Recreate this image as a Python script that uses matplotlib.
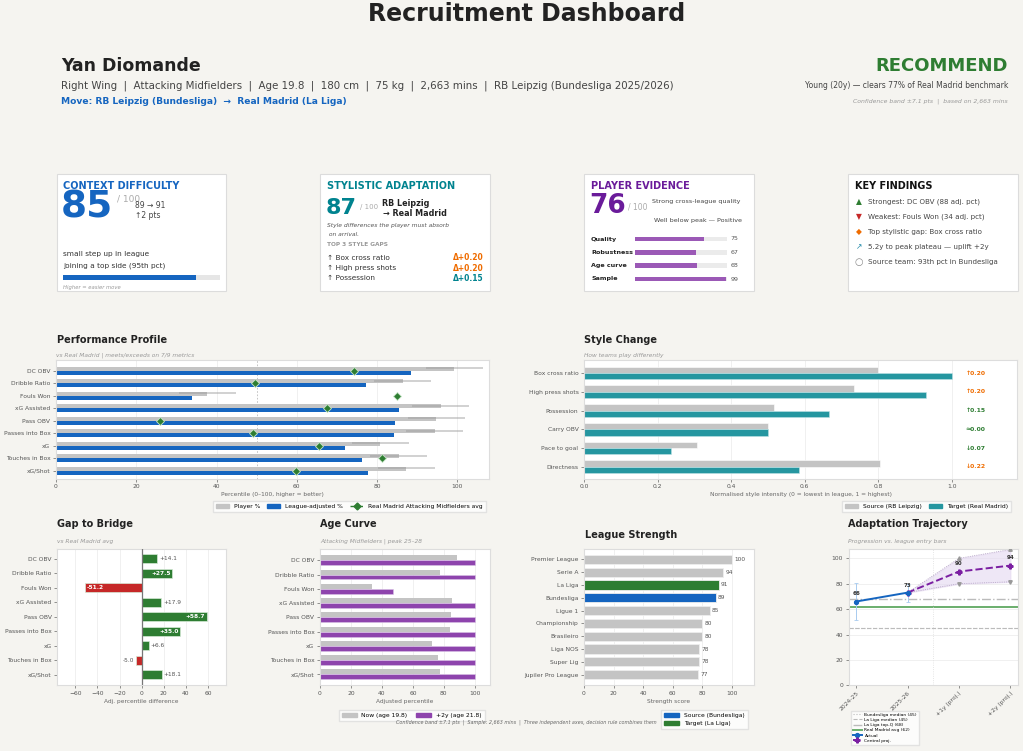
import matplotlib
matplotlib.use('Agg')
import matplotlib.pyplot as plt
from matplotlib.patches import Rectangle, Patch
from matplotlib.lines import Line2D
import numpy as np

W, H = 1023, 751
BG = '#f5f4f0'
BLUE = '#1565c0'
GREEN = '#2e7d32'
RED = '#c62828'
TEAL = '#00838f'
TEAL_BAR = '#2596a0'
PURPLE = '#6a1b9a'
PURPLE_BAR = '#8e44ad'
PURPLE_CARD = '#9b59b6'
ORANGE = '#ef6c00'
GRAY_BAR = '#c4c4c4'
TXT = '#222222'
SUB = '#999999'

# ---------------- data ----------------
metrics = ['DC OBV', 'Dribble Ratio', 'Fouls Won', 'xG Assisted', 'Pass OBV',
           'Passes into Box', 'xG', 'Touches in Box', 'xG/Shot']
player_pct = [99.2, 86.4, 37.7, 95.8, 94.7, 94.4, 80.8, 85.4, 87.2]
adj_pct = [88.4, 77.2, 33.8, 85.5, 84.5, 84.2, 72.1, 76.2, 77.8]
gap_vals = [14.1, 27.5, -51.2, 17.9, 58.7, 35.0, 6.6, -5.0, 18.1]
conf_band = 7.1
age_now = [88.4, 77.2, 33.8, 85.5, 84.5, 84.2, 72.1, 76.2, 77.8]
age_plus2 = [100, 100, 47.3, 100, 100, 100, 100, 100, 100]

style_dims = ['Box cross ratio', 'High press shots', 'Possession', 'Carry OBV',
              'Pace to goal', 'Directness']
style_source = [0.80, 0.733, 0.517, 0.50, 0.308, 0.806]
style_target = [1.0, 0.931, 0.667, 0.50, 0.237, 0.585]

leagues = ['Premier League', 'Serie A', 'La Liga', 'Bundesliga', 'Ligue 1',
           'Championship', 'Brasileiro', 'Liga NOS', 'Super Lig', 'Jupiler Pro League']
league_strength = [100, 94, 91, 89, 85, 80, 80, 78, 78, 77]

traj_labels = ['2024-25', '2025-26', '+1y (proj.)', '+2y (proj.)']
traj_actual = [66, 73]
traj_actual_err = [14.5, 7.1]
proj_central = [73, 89.6, 94.3]
proj_upper = [73, 100, 107]
proj_lower = [73, 80, 81.5]
ref_lines = {'Bundesliga median (45)': 45, 'La Liga median (45)': 45,
             'La Liga top-Q (68)': 68, 'Real Madrid avg (62)': 62}

context_score = 85
style_score = 87
evidence_score = 76
evidence_names = ['Quality', 'Robustness', 'Age curve', 'Sample']
evidence_vals = [75, 67, 68, 99]
context_bar = 85

# ---------------- helpers ----------------
fig = plt.figure(figsize=(W / 100, H / 100), dpi=100, facecolor=BG)


def rect(x0, y0, x1, y1):
    return [x0 / W, 1 - y1 / H, (x1 - x0) / W, (y1 - y0) / H]


def T(x, y, s, size=5, color=TXT, ha='left', va='center', **kw):
    return fig.text(x / W, 1 - y / H, s, fontsize=size, color=color, ha=ha, va=va, **kw)


def card(x0, y0, x1, y1):
    fig.patches.append(Rectangle((x0 / W, 1 - y1 / H), (x1 - x0) / W, (y1 - y0) / H,
                                 transform=fig.transFigure, facecolor='white',
                                 edgecolor='#dcdcdc', lw=0.8, zorder=-1))


def style_ax(ax, xgrid=True):
    ax.set_facecolor('white')
    for s in ax.spines.values():
        s.set_color('#dddddd')
        s.set_linewidth(0.8)
    ax.tick_params(labelsize=4.3, colors='#666666', length=2, width=0.5, pad=2)
    for lab in ax.get_xticklabels() + ax.get_yticklabels():
        lab.set_color('#555555')
    if xgrid:
        ax.grid(axis='x', color='#eeeeee', lw=0.6)
    ax.set_axisbelow(True)


# ---------------- header ----------------
T(527, 14, 'Recruitment Dashboard', size=17, weight='bold', ha='center')
T(61, 66, 'Yan Diomande', size=12.5, weight='bold')
T(61, 86, 'Right Wing  |  Attacking Midfielders  |  Age 19.8  |  180 cm  |  75 kg  |  '
          '2,663 mins  |  RB Leipzig (Bundesliga 2025/2026)', size=7.4, color='#444444')
T(61, 102, 'Move: RB Leipzig (Bundesliga)  →  Real Madrid (La Liga)', size=6.6,
  color=BLUE, weight='bold')
T(1008, 66, 'RECOMMEND', size=13, weight='bold', color=GREEN, ha='right')
T(1008, 85, 'Young (20y) — clears 77% of Real Madrid benchmark', size=5.5,
  color='#444444', ha='right')
T(1008, 101, 'Confidence band ±7.1 pts  |  based on 2,663 mins', size=4.4,
  color=SUB, ha='right', style='italic')

# ---------------- cards ----------------
card(57, 174, 226, 291)
card(320, 174, 490, 291)
card(584, 174, 754, 291)
card(848, 174, 1018, 291)

# card 1
T(63, 186, 'CONTEXT DIFFICULTY', size=7, weight='bold', color=BLUE)
T(61, 208, f'{context_score}', size=27, weight='bold', color=BLUE)
T(117, 199, '/ 100', size=6.5, color='#aaaaaa')
T(135, 206, '89 → 91', size=5.5, color='#444444')
T(135, 215.5, '↑2 pts', size=5.5, color='#444444')
T(63, 254.5, 'small step up in league', size=5.3, color='#333333')
T(63, 265.5, 'joining a top side (95th pct)', size=5.3, color='#333333')
axc = fig.add_axes(rect(63, 274.5, 219.5, 279.5))
axc.barh([0], [100], height=1, color='#e6e6e6')
axc.barh([0], [context_bar], height=1, color=BLUE)
axc.set_xlim(0, 100)
axc.set_ylim(-0.5, 0.5)
axc.axis('off')
T(63, 287, 'Higher = easier move', size=3.8, color=SUB, style='italic')

# card 2
T(327, 186, 'STYLISTIC ADAPTATION', size=7, weight='bold', color=TEAL)
T(326, 207.5, f'{style_score}', size=16, weight='bold', color=TEAL)
T(360.5, 207.5, '/ 100', size=5, color='#aaaaaa')
T(381.5, 203, 'RB Leipzig', size=5.8, weight='bold')
T(383, 213.5, '→ Real Madrid', size=5.8, weight='bold')
T(327, 225.5, 'Style differences the player must absorb', size=4.3, color='#555555',
  style='italic')
T(327, 235, ' on arrival.', size=4.3, color='#555555', style='italic')
T(327, 245, 'TOP 3 STYLE GAPS', size=4.2, weight='bold', color='#999999')
gap_rows = [('↑ Box cross ratio', 'Δ+0.20', ORANGE), ('↑ High press shots', 'Δ+0.20', ORANGE),
            ('↑ Possession', 'Δ+0.15', TEAL)]
for i, (lab, d, c) in enumerate(gap_rows):
    yy = 257.5 + i * 10.5
    T(327, yy, lab, size=5.3, color='#333333')
    T(483.5, yy, d, size=5.5, color=c, weight='bold', ha='right')

# card 3
T(591, 186, 'PLAYER EVIDENCE', size=7, weight='bold', color=PURPLE)
T(589.5, 205.5, f'{evidence_score}', size=19, weight='bold', color=PURPLE)
T(628.5, 207, '/ 100', size=5.5, color='#aaaaaa')
T(652.5, 201.5, 'Strong cross-league quality', size=4.6, color='#444444')
T(654.5, 220.5, 'Well below peak — Positive', size=4.6, color='#444444')
axe = fig.add_axes(rect(635, 232.3, 726.7, 285.7))
ys = np.arange(len(evidence_vals))
axe.barh(ys, [100] * len(ys), height=0.34, color='#ebebeb')
axe.barh(ys, evidence_vals, height=0.34, color=PURPLE_CARD)
axe.set_xlim(0, 100)
axe.set_ylim(len(ys) - 0.5, -0.5)
axe.axis('off')
for i, (n, v) in enumerate(zip(evidence_names, evidence_vals)):
    axe.text(104, i, f'{v}', fontsize=4.5, color='#555555', va='center', ha='left')
    T(591, 239 + i * 13.33, n, size=4.6, weight='bold', color='#222222')

# card 4
T(855, 186, 'KEY FINDINGS', size=7, weight='bold', color='#111111')
findings = [('▲', GREEN, 'Strongest: DC OBV (88 adj. pct)'),
            ('▼', RED, 'Weakest: Fouls Won (34 adj. pct)'),
            ('◆', ORANGE, 'Top stylistic gap: Box cross ratio'),
            ('↗', '#1e88a8', '5.2y to peak plateau — uplift +2y'),
            ('○', '#888888', 'Source team: 93th pct in Bundesliga')]
for i, (m, c, s) in enumerate(findings):
    yy = 201.3 + i * 15.2
    T(859, yy, m, size=7 if m == '○' else 5.5, color=c, ha='center')
    T(868.5, yy, s, size=5.1, color='#444444')

# ---------------- Performance profile ----------------
ax = fig.add_axes(rect(56, 360.3, 488.7, 478.7))
y = np.arange(len(metrics))
ax.barh(y - 0.16, player_pct, height=0.33, color=GRAY_BAR, zorder=2)
ax.barh(y + 0.16, adj_pct, height=0.33, color=BLUE, zorder=2)
for yi, p in zip(y, player_pct):
    ax.plot([p - conf_band, p + conf_band], [yi - 0.2, yi - 0.2], color='#9a9a9a',
            lw=1.4, alpha=0.45, zorder=3, solid_capstyle='butt')
target = [a - g for a, g in zip(adj_pct, gap_vals)]
ax.plot(target, y, ls='none', marker='D', ms=4.3, color=GREEN, mec='#c8e6c9', mew=0.6,
        zorder=4)
ax.axvline(50, color='#bbbbbb', ls=(0, (2, 2)), lw=0.6, zorder=1)
ax.set_yticks(y)
ax.set_yticklabels(metrics)
ax.set_ylim(8.62, -0.82)
ax.set_xlim(0, 107.8)
ax.set_xticks([0, 20, 40, 60, 80, 100])
style_ax(ax)
ax.set_xlabel('Percentile (0–100, higher = better)', fontsize=4.2, color='#666666', labelpad=2)
T(57, 340, 'Performance Profile', size=7, weight='bold')
T(56, 355, 'vs Real Madrid | meets/exceeds on 7/9 metrics', size=4.2, color=SUB,
  style='italic')
h = [Patch(color=GRAY_BAR, label='Player %'), Patch(color=BLUE, label='League-adjusted %'),
     Line2D([], [], color=GREEN, ls='--', marker='D', ms=3.5, lw=1,
            label='Real Madrid Attacking Midfielders avg')]
ax.legend(handles=h, loc='upper right', bbox_to_anchor=(1.0, -0.16), ncol=3, fontsize=4.3,
          frameon=True, edgecolor='#dddddd', fancybox=False, handlelength=2.2,
          columnspacing=1.2, borderpad=0.5)

# ---------------- Style change ----------------
ax = fig.add_axes(rect(584, 360.3, 1017.3, 478.7))
ys = np.arange(len(style_dims))
ax.barh(ys - 0.17, style_source, height=0.34, color=GRAY_BAR, edgecolor='white', lw=0.4,
        zorder=2)
ax.barh(ys + 0.17, style_target, height=0.34, color=TEAL_BAR, edgecolor='#bfe3e6', lw=0.4,
        zorder=2)
for yi, s, t in zip(ys, style_source, style_target):
    d = t - s
    arrow = '≈' if abs(d) < 0.005 else ('↑' if d > 0 else '↓')
    col = ORANGE if abs(d) > 0.17 else GREEN
    ax.text(1.065, yi, f'{arrow}{abs(d):.2f}', fontsize=4.4, color=col, weight='bold',
            ha='center', va='center')
ax.set_yticks(ys)
ax.set_yticklabels(style_dims)
ax.set_ylim(5.63, -0.68)
ax.set_xlim(0, 1.178)
ax.set_xticks([0, 0.2, 0.4, 0.6, 0.8, 1.0])
style_ax(ax)
ax.set_xlabel('Normalised style intensity (0 = lowest in league, 1 = highest)', fontsize=4.2,
              color='#666666', labelpad=2)
T(584, 340, 'Style Change', size=7, weight='bold')
T(584, 355, 'How teams play differently', size=4.2, color=SUB, style='italic')
h = [Patch(color=GRAY_BAR, label='Source (RB Leipzig)'),
     Patch(color=TEAL_BAR, label='Target (Real Madrid)')]
ax.legend(handles=h, loc='upper right', bbox_to_anchor=(0.993, -0.16), ncol=2, fontsize=4.3,
          frameon=True, edgecolor='#dddddd', fancybox=False, handlelength=2.2,
          columnspacing=1.2, borderpad=0.5)

# ---------------- Gap to bridge ----------------
ax = fig.add_axes(rect(57.3, 548.7, 226, 685.3))
y = np.arange(len(metrics))
cols = [GREEN if v >= 0 else RED for v in gap_vals]
ax.barh(y, gap_vals, height=0.62, color=cols, edgecolor='#d6ead7', lw=0.5, zorder=2)
ax.axvline(0, color='#777777', lw=0.9, zorder=3)
for yi, v in zip(y, gap_vals):
    if abs(v) > 25:
        ax.text(v - 1.5 if v > 0 else v + 1.5, yi, f'{v:+.1f}', fontsize=4.2, color='white',
                weight='bold', ha='right' if v > 0 else 'left', va='center', zorder=4)
    else:
        ax.text(v + 1.5 if v > 0 else v - 1.5, yi, f'{v:+.1f}', fontsize=4.2, color='#555555',
                ha='left' if v > 0 else 'right', va='center', zorder=4)
ax.set_yticks(y)
ax.set_yticklabels(metrics)
ax.set_ylim(8.72, -0.7)
lim = max(abs(v) for v in gap_vals) * 1.3
ax.set_xlim(-lim, lim)
ax.set_xticks([-60, -40, -20, 0, 20, 40, 60])
style_ax(ax)
ax.set_xticklabels(['−60', '−40', '−20', '0', '20', '40', '60'])
ax.set_xlabel('Adj. percentile difference', fontsize=4.2, color='#666666', labelpad=2)
T(57, 524, 'Gap to Bridge', size=7, weight='bold')
T(57, 541, 'vs Real Madrid avg', size=4.2, color=SUB, style='italic')

# ---------------- Age curve ----------------
ax = fig.add_axes(rect(320, 548.7, 490.3, 685.3))
ax.barh(y - 0.175, age_now, height=0.35, color=GRAY_BAR, zorder=2)
ax.barh(y + 0.175, age_plus2, height=0.35, color=PURPLE_BAR, edgecolor='#d9c3e6', lw=0.4,
        zorder=2)
ax.set_yticks(y)
ax.set_yticklabels(metrics)
ax.set_ylim(8.77, -0.81)
ax.set_xlim(0, 110)
ax.set_xticks([0, 20, 40, 60, 80, 100])
style_ax(ax)
ax.set_xlabel('Adjusted percentile', fontsize=4.2, color='#666666', labelpad=2)
T(320, 524, 'Age Curve', size=7, weight='bold')
T(320, 541, 'Attacking Midfielders | peak 25–28', size=4.2, color=SUB, style='italic')
h = [Patch(color=GRAY_BAR, label='Now (age 19.8)'), Patch(color=PURPLE_BAR, label='+2y (age 21.8)')]
ax.legend(handles=h, loc='upper right', bbox_to_anchor=(0.985, -0.16), ncol=2, fontsize=4.3,
          frameon=True, edgecolor='#dddddd', fancybox=False, handlelength=2.5,
          columnspacing=1.5, borderpad=0.5)

# ---------------- League strength ----------------
ax = fig.add_axes(rect(584, 548.7, 754, 685.3))
yl = np.arange(len(leagues))
lcols = [GREEN if l == 'La Liga' else BLUE if l == 'Bundesliga' else GRAY_BAR for l in leagues]
ax.barh(yl, league_strength, height=0.72, color=lcols, edgecolor='#eeeeee', lw=0.6, zorder=2)
for yi, v in zip(yl, league_strength):
    ax.text(v + 1.5, yi, f'{v}', fontsize=4.2, color='#555555', va='center', ha='left')
ax.set_yticks(yl)
ax.set_yticklabels(leagues)
ax.set_ylim(9.83, -0.83)
ax.set_xlim(0, 115)
ax.set_xticks([0, 20, 40, 60, 80, 100])
style_ax(ax)
ax.set_xlabel('Strength score', fontsize=4.2, color='#666666', labelpad=2)
T(585, 535, 'League Strength', size=7, weight='bold')
h = [Patch(color=BLUE, label='Source (Bundesliga)'), Patch(color=GREEN, label='Target (La Liga)')]
ax.legend(handles=h, loc='upper right', bbox_to_anchor=(0.98, -0.16), ncol=1, fontsize=4.3,
          frameon=True, edgecolor='#dddddd', fancybox=False, handlelength=2.5,
          borderpad=0.5)

# ---------------- Adaptation trajectory ----------------
ax = fig.add_axes(rect(848.5, 548.7, 1018, 685.3))
xa = np.arange(len(traj_actual))
xp = np.arange(1, 1 + len(proj_central))
ax.fill_between(xp, proj_lower, proj_upper, color='#e4d8f0', alpha=0.6, zorder=1)
ax.plot(xp, proj_upper, color='#b0a0c0', ls=':', lw=0.6, zorder=2)
ax.plot(xp, proj_lower, color='#b0a0c0', ls=':', lw=0.6, zorder=2)
ax.plot(xp[1:], proj_upper[1:], ls='none', marker='^', ms=2.5, color='#999999', zorder=3)
ax.plot(xp[1:], proj_lower[1:], ls='none', marker='v', ms=2.5, color='#999999', zorder=3)
styles = {'Bundesliga median (45)': dict(color='#bbbbbb', ls=':', lw=0.8),
          'La Liga median (45)': dict(color='#bbbbbb', ls='--', lw=0.8),
          'La Liga top-Q (68)': dict(color='#bbbbbb', ls='-.', lw=1.0),
          'Real Madrid avg (62)': dict(color='#6aae6d', ls='-', lw=1.4)}
hl = []
for name, val in ref_lines.items():
    l = ax.axhline(val, zorder=1, label=name, **styles[name])
    hl.append(l)
ax.axvline(1.5, color='#dddddd', ls=':', lw=0.6, zorder=1)
ax.errorbar(xa, traj_actual, yerr=traj_actual_err, fmt='none', ecolor='#a8cbef', elinewidth=0.7,
            capsize=1.5, capthick=0.6, zorder=3)
la, = ax.plot(xa, traj_actual, color=BLUE, lw=1.4, marker='o', ms=2.8, zorder=5, label='Actual')
lp, = ax.plot(xp, proj_central, color='#7b1fa2', lw=1.4, ls='--', marker='P', ms=3.5,
              zorder=4, label='Central proj.')
for xi, v in zip(xa, traj_actual):
    ax.text(xi, v + 6, f'{v:.0f}', fontsize=4, weight='bold', color='#333333', ha='center',
            va='center')
for xi, v in zip(xp[1:], proj_central[1:]):
    ax.text(xi, v + 6.3, f'{v:.0f}', fontsize=4, weight='bold', color='#333333', ha='center',
            va='center')
ax.set_xlim(-0.15, 3.15)
ax.set_ylim(0, 107.6)
ax.set_xticks(range(len(traj_labels)))
ax.set_xticklabels(traj_labels, rotation=45, ha='right', rotation_mode='anchor')
ax.set_yticks([0, 20, 40, 60, 80, 100])
style_ax(ax, xgrid=False)
ax.grid(axis='y', color='#eeeeee', lw=0.6)
T(848, 524, 'Adaptation Trajectory', size=7, weight='bold')
T(848, 541, 'Progression vs. league entry bars', size=4.2, color=SUB, style='italic')
ax.legend(handles=hl + [la, lp], loc='upper left', bbox_to_anchor=(0.0, -0.17), ncol=1,
          fontsize=3.2, frameon=True, edgecolor='#dddddd', fancybox=False, handlelength=2.2,
          borderpad=0.4, labelspacing=0.25, handletextpad=0.5)

# footnote
T(526, 722, 'Confidence band ±7.1 pts  |  Sample: 2,663 mins  |  Three independent axes, '
            'decision rule combines them', size=3.5, color='#666666', ha='center', style='italic')

fig.savefig('out.png', dpi=100, facecolor=BG)
